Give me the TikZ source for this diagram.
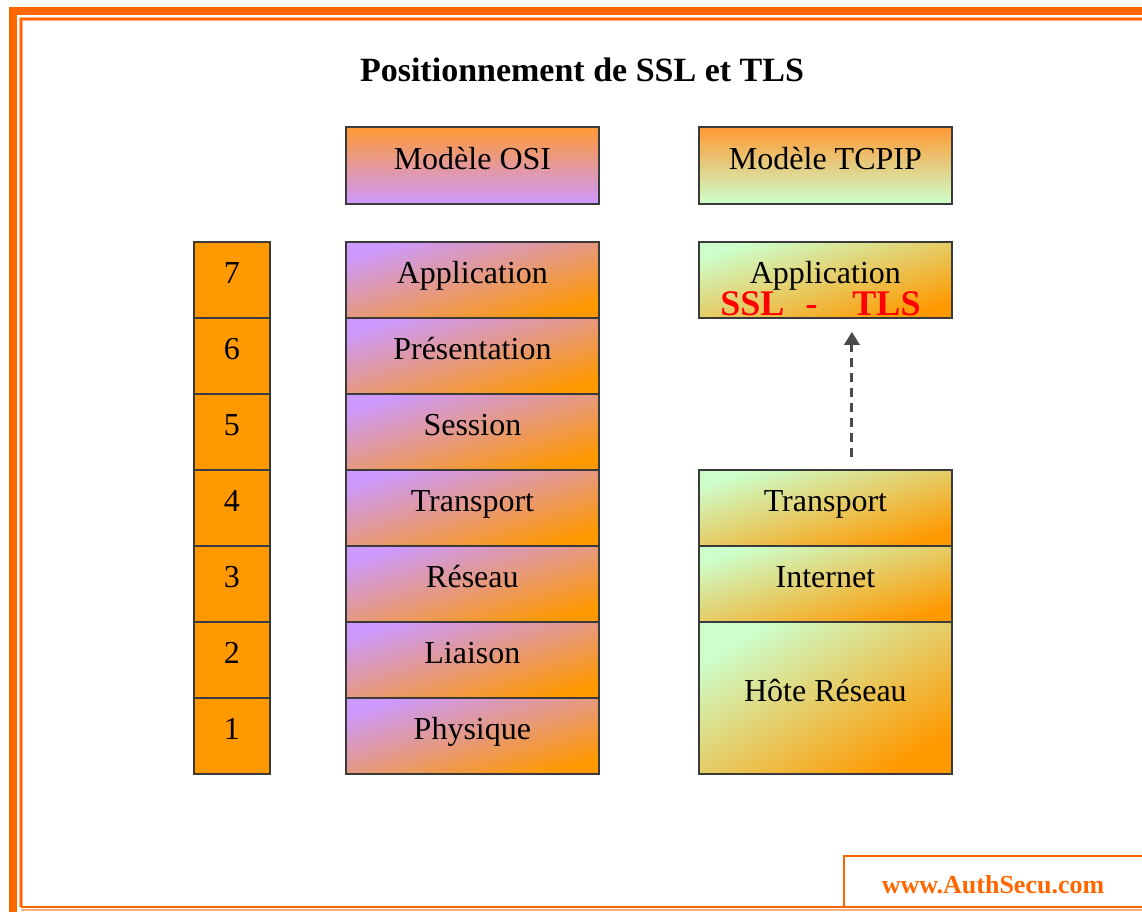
\documentclass[tikz,border=0pt]{standalone}
\usepackage{fontspec}
\setmainfont{Liberation Serif}
\usetikzlibrary{arrows.meta}
\definecolor{frameorange}{HTML}{FF6600}
\definecolor{framepale}{HTML}{FFB080}
\definecolor{numorange}{HTML}{FF9900}
\definecolor{hdorange}{HTML}{FF9933}
\definecolor{osiviolet}{HTML}{CC99FF}
\definecolor{tcpgreen}{HTML}{CCFFCC}
\definecolor{edgegray}{HTML}{3A3A3A}
\definecolor{arrowgray}{HTML}{4A4A4A}

\begin{document}
\begin{tikzpicture}[x=1pt,y=-1pt,
  box/.style={draw=edgegray, line width=1.8pt, inner sep=0pt, anchor=north west,
    font=\fontsize{32}{36}\selectfont, text height=22pt, text depth=14pt},
  numbox/.style={box, fill=numorange, minimum width=76pt, minimum height=76pt},
  osihead/.style={box, minimum width=253pt, minimum height=77pt,
    top color=hdorange, bottom color=osiviolet},
  tcphead/.style={box, minimum width=253pt, minimum height=77pt,
    top color=hdorange, bottom color=tcpgreen},
  osilayer/.style={box, minimum width=253pt, minimum height=76pt,
    top color=osiviolet, bottom color=numorange, shading angle=17},
  tcplayer/.style={box, minimum width=253pt, minimum height=76pt,
    top color=tcpgreen, bottom color=numorange, shading angle=17},
  ssltext/.style={anchor=base, font=\bfseries\fontsize{36}{40}\selectfont},
  link/.style={draw=arrowgray, line width=3pt, dash pattern=on 9pt off 6pt,
    -{Triangle[width=15pt,length=13pt]}}
]
\useasboundingbox (0,0) rectangle (1142,911);

% page frame
\fill[frameorange] (9,7) rectangle (17,915);
\fill[frameorange] (9,7) rectangle (1146,15);
\draw[framepale, line width=4pt] (21,907) -- (21,19) -- (1146,19);
\draw[frameorange, line width=1.6pt] (21,907) -- (21,19) -- (1146,19);
\draw[framepale, line width=1.5pt] (21,910) -- (1146,910);
\draw[frameorange, line width=1.6pt] (21,907) -- (1146,907);

% title
\node[font=\bfseries\fontsize{34}{40}\selectfont] (title) at (582,70) {Positionnement de SSL et TLS};

% column headers
\node[osihead] (osihd) at (345,126) {Modèle OSI};
\node[tcphead] (tcphd) at (698,126) {Modèle TCPIP};

% OSI layers with their numbers
\foreach \n/\name [count=\i from 0] in {7/Application, 6/Présentation, 5/Session,
    4/Transport, 3/Réseau, 2/Liaison, 1/Physique}{
  \node[numbox] (num\n) at (193,{241+76*\i}) {\n};
  \node[osilayer] (osi\n) at (345,{241+76*\i}) {\name};
}

% TCP/IP layers
\node[tcplayer] (app) at (698,241) {Application};
\node[tcplayer] (tr) at (698,469) {Transport};
\node[tcplayer] (inet) at (698,545) {Internet};
\node[tcplayer, minimum height=152pt, shading angle=31] (hote) at (698,621) {Hôte Réseau};

% SSL - TLS inside the application layer
\node[ssltext, text=red] (ssl) at (820.5,315) {SSL\hspace{21pt}-\hspace{35pt}TLS};

% transport to application
\draw[link, shorten <=12pt, shorten >=13pt] ([xshift=26.5pt]tr.north) -- ([xshift=26.5pt]app.south);

% site box
\draw[frameorange, line width=1.8pt] (844,907) -- (844,856) -- (1146,856);
\node[text=frameorange, font=\bfseries\fontsize{26}{30}\selectfont] (site) at (993,885) {www.AuthSecu.com};
\end{tikzpicture}
\end{document}
